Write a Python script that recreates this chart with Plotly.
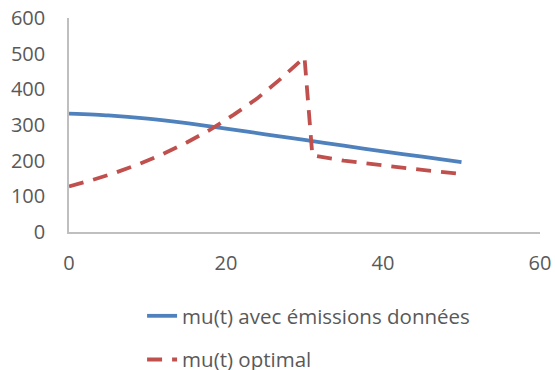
import plotly.graph_objects as go

t_blue = [0, 5, 10, 15, 20, 25, 30, 35, 40, 45, 50]
mu_blue = [332, 327, 318, 305, 290, 274, 258, 242, 226, 211, 196]

t_red = [0, 3, 6, 9, 12, 15, 18, 21, 24, 27, 30, 31, 35, 40, 45, 50]
mu_red = [128, 146, 167, 191, 219, 251, 287, 329, 375, 430, 490, 215, 200, 186, 174, 163]

name_blue = "mu(t) avec émissions données"
name_red = "mu(t) optimal"

fig = go.Figure()
fig.add_trace(go.Scatter(x=t_blue, y=mu_blue, mode="lines", name=name_blue,
                         legendgroup="a",
                         line=dict(color="#4F81BD", width=3.8, shape="spline", smoothing=0.6)))
fig.add_trace(go.Scatter(x=t_red, y=mu_red, mode="lines", name=name_red,
                         legendgroup="b",
                         line=dict(color="#C0504D", width=3.8, dash="15px,10px")))

fig.update_layout(
    width=555, height=370,
    margin=dict(l=69, r=15, t=18, b=138, autoexpand=False),
    paper_bgcolor="white", plot_bgcolor="white",
    font=dict(family="Open Sans", size=20, color="#595959"),
    showlegend=True,
    legend=dict(orientation="v", xref="container", yref="container",
                x=0.256, xanchor="left", y=0.20, yanchor="top",
                tracegroupgap=14, font=dict(size=20.5, color="#595959")),
    xaxis=dict(range=[0, 60], tickvals=[0, 20, 40, 60], showgrid=False, zeroline=False,
               showline=True, linecolor="#BFBFBF", linewidth=1.5, ticks="",
               ticklabelstandoff=12, automargin=False),
    yaxis=dict(range=[0, 600], tickvals=[0, 100, 200, 300, 400, 500, 600], showgrid=False,
               zeroline=False, showline=True, linecolor="#BFBFBF", linewidth=1.5, ticks="",
               ticklabelstandoff=18, automargin=False),
)
fig.write_html("out.html")
